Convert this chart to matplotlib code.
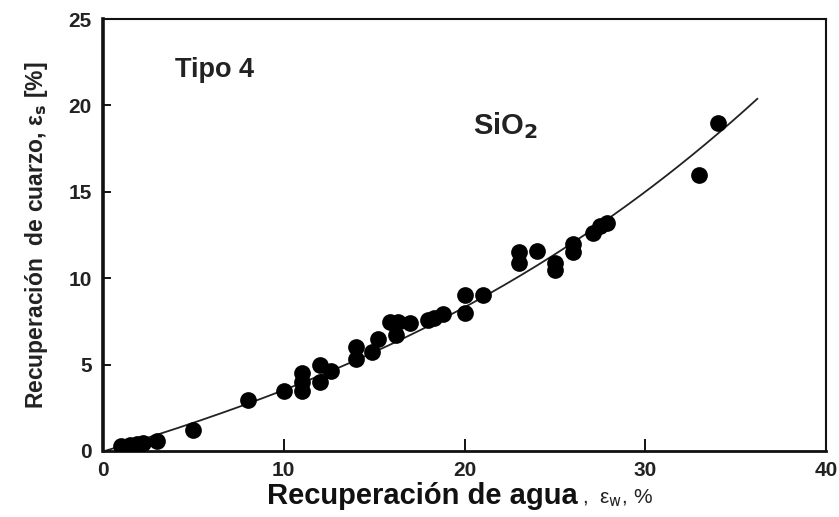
import numpy as np
import matplotlib
matplotlib.use("Agg")
import matplotlib.pyplot as plt

plt.rcParams['font.family'] = ['Liberation Sans', 'DejaVu Sans']

# Recuperación de agua (x) vs recuperación de cuarzo (y), Tipo 4
agua = [1.0, 1.5, 1.9, 2.2, 3.0, 5.0, 8.0, 10.0, 11.0, 11.0, 11.0,
        12.0, 12.0, 12.6, 14.0, 14.0, 14.9, 15.2, 15.9, 16.3, 16.2,
        17.0, 18.0, 18.3, 18.8, 20.0, 20.0, 21.0, 23.0, 23.0, 24.0,
        25.0, 25.0, 26.0, 26.0, 27.1, 27.5, 27.9, 33.0, 34.0]
cuarzo = [0.3, 0.35, 0.4, 0.45, 0.55, 1.2, 2.95, 3.47, 3.45, 4.0, 4.5,
          5.0, 4.0, 4.6, 5.3, 6.0, 5.75, 6.5, 7.47, 7.47, 6.7,
          7.4, 7.58, 7.7, 7.9, 9.0, 8.0, 9.0, 11.5, 10.9, 11.6,
          10.9, 10.5, 12.0, 11.5, 12.6, 13.0, 13.2, 16.0, 19.0]

# puntos leídos sobre la curva de ajuste
curva_x = [0.0, 10.0, 20.0, 28.0, 32.0, 36.2]
curva_y = [0.0, 3.4, 8.5, 13.5, 16.4, 20.5]

x_ticks = [0, 10, 20, 30, 40]
y_ticks = [0, 5, 10, 15, 20, 25]

fig = plt.figure(figsize=(8.39, 5.17), dpi=100)
ax = fig.add_axes([0.1228, 0.1277, 0.8617, 0.8355])

ax.scatter(agua, cuarzo, s=145, color='black', zorder=3, linewidths=0)

# curva suave ajustada a los puntos de la curva
p = np.polyfit(curva_x, curva_y, 3)
xc = np.linspace(curva_x[0], curva_x[-1], 200)
ax.plot(xc, np.polyval(p, xc), color='#222222', lw=1.3, zorder=2)

ax.set_xlim(0, 40)
ax.set_ylim(0, 25)
ax.set_xticks(x_ticks)
ax.set_yticks(y_ticks)
ax.tick_params(axis='x', direction='in', length=9, width=1.3, pad=7,
               labelsize=15, top=False)
ax.tick_params(axis='y', direction='in', length=6, width=1.3, pad=8,
               labelsize=15, right=False)
for lab in ax.get_xticklabels() + ax.get_yticklabels():
    lab.set_fontweight('bold')
    lab.set_color('#222222')

ax.spines['left'].set_linewidth(2.6)
ax.spines['bottom'].set_linewidth(2.0)
ax.spines['top'].set_linewidth(1.5)
ax.spines['right'].set_linewidth(1.5)
for sp in ax.spines.values():
    sp.set_color('#111111')

ax.set_ylabel('Recuperación  de cuarzo, ε$_\\mathbf{s}$ [%]', fontsize=16.5,
              fontweight='bold', color='#222222', labelpad=13)

fig.text(578 / 839, 1 - 496 / 517, 'Recuperación de agua', ha='right',
         va='center', fontsize=21, fontweight='bold', color='#111111')
fig.text(582 / 839, 1 - 498 / 517, ',  ε$_\\mathrm{w}$, %', ha='left',
         va='center', fontsize=15, color='#222222')

ax.text(175 / 839, 1 - 70 / 517, 'Tipo 4', transform=fig.transFigure,
        ha='left', va='center', fontsize=19.5, fontweight='bold', color='#222222')
ax.text(473 / 839, 1 - 126 / 517, 'SiO$_\\mathbf{2}$', transform=fig.transFigure,
        ha='left', va='center', fontsize=21, fontweight='bold', color='#222222')

fig.savefig('out.png', dpi=100)
